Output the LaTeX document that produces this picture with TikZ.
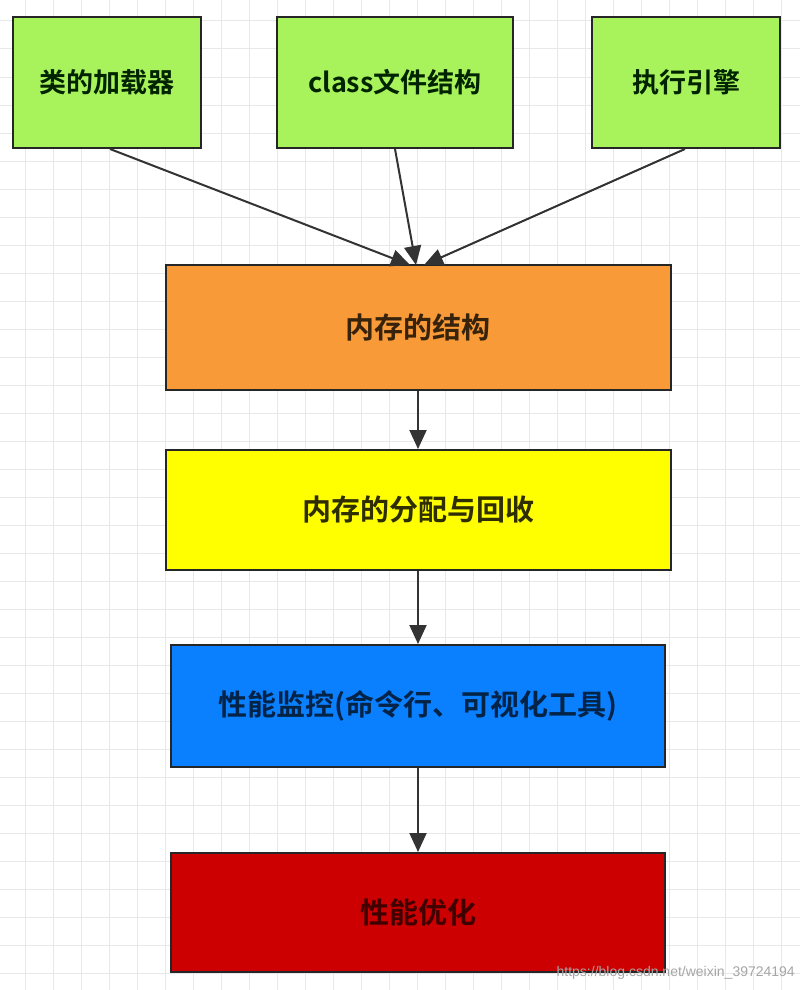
\documentclass[tikz,border=0pt]{standalone}
\usepackage{fontspec}
\newfontfamily\cjk{Noto Sans CJK SC}[BoldFont={* Bold}]
\usetikzlibrary{arrows.meta}
\definecolor{gfill}{HTML}{A8F25C}
\definecolor{ofill}{HTML}{F99A38}
\definecolor{yfill}{HTML}{FFFF00}
\definecolor{bfill}{HTML}{0A80FF}
\definecolor{rfill}{HTML}{CC0000}
\definecolor{lnk}{HTML}{333333}
\tikzset{
  box/.style={draw=black!85, line width=2pt, inner sep=0pt, font=\cjk\bfseries\fontsize{27}{31}\selectfont},
  bigbox/.style={box, font=\cjk\bfseries\fontsize{29}{33}\selectfont},
  flow/.style={draw=lnk, line width=2pt, -{Triangle[length=19pt,width=17pt]}},
  gridline/.style={draw=black!9, line width=1pt}
}
\begin{document}
\begin{tikzpicture}[x=1pt,y=-1pt]
\useasboundingbox[fill=white] (0,0) rectangle (800,990);
% background grid
\foreach \gx in {25,53,...,800} \draw[gridline] (\gx,0) -- (\gx,990);
\foreach \gy in {21,49,...,990} \draw[gridline] (0,\gy) -- (800,\gy);
% boxes
\node[box, fill=gfill, text=black!65!green!40!black, minimum width=188pt, minimum height=131pt] (cl) at (107,82.5) {类的加载器};
\node[box, fill=gfill, text=black!65!green!40!black, minimum width=236pt, minimum height=131pt] (cf) at (395,82.5) {class文件结构};
\node[box, fill=gfill, text=black!65!green!40!black, minimum width=188pt, minimum height=131pt] (ee) at (686,82.5) {执行引擎};
\node[bigbox, fill=ofill, text=black!78!ofill, minimum width=505pt, minimum height=125pt] (ms) at (418,327.5) {内存的结构};
\node[bigbox, fill=yfill, text=black!82!yfill, minimum width=505pt, minimum height=120pt] (ma) at (418,510) {内存的分配与回收};
\node[bigbox, fill=bfill, text=black!72!bfill, minimum width=494pt, minimum height=122pt] (pm) at (418,706) {性能监控(命令行、可视化工具)};
\node[bigbox, fill=rfill, text=black!68!rfill, minimum width=494pt, minimum height=119pt] (po) at (418,912.5) {性能优化};
% connectors
\coordinate (t1) at (410,265);
\coordinate (t2) at (416,265);
\coordinate (t3) at (424,265);
\draw[flow] ([xshift=3pt]cl.south) -- (t1);
\draw[flow] (cf.south) -- (t2);
\draw[flow] ([xshift=-1pt]ee.south) -- (t3);
\draw[flow] (ms.south) -- (ma.north);
\draw[flow] (ma.south) -- (pm.north);
\draw[flow] (pm.south) -- (po.north);
% watermark
\node[anchor=south east, inner sep=0pt, text=black!35, font=\fontsize{14}{16}\selectfont\fontspec{Liberation Sans}] (wm) at (795,980) {https://blog.csdn.net/weixin\_39724194};
\end{tikzpicture}
\end{document}
